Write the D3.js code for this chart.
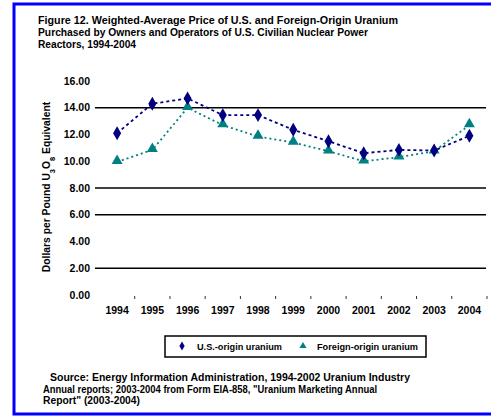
<!DOCTYPE html>
<html>
<head>
<meta charset="utf-8">
<script src="https://cdn.jsdelivr.net/npm/d3@7"></script>
<style>
  body { margin: 0; background: #fff; }
  svg { display: block; font-family: "Liberation Sans", Arial, sans-serif; }
</style>
</head>
<body>
<svg id="chart" width="491" height="417"></svg>
<script>
// --- DATOS ---
const years = ["1994", "1995", "1996", "1997", "1998", "1999", "2000", "2001", "2002", "2003", "2004"];
const usOrigin = [12.1, 14.3, 14.7, 13.45, 13.45, 12.35, 11.5, 10.6, 10.85, 10.8, 11.9];
const foreignOrigin = [9.95, 10.85, 14.0, 12.7, 11.85, 11.4, 10.75, 10.0, 10.3, 10.75, 12.7];
const yTicks = [0, 2, 4, 6, 8, 10, 12, 14, 16];
const gridValues = [2, 6, 8, 14];
const titleLines = [
  "Figure 12.  Weighted-Average Price of U.S. and Foreign-Origin Uranium",
  "Purchased by Owners and Operators of U.S. Civilian Nuclear Power",
  "Reactors, 1994-2004"
];
const sourceLines = [
  "Source:  Energy Information Administration, 1994-2002 Uranium Industry",
  "Annual reports; 2003-2004 from Form EIA-858, \"Uranium Marketing Annual",
  "Report\" (2003-2004)"
];
const seriesNames = ["U.S.-origin uranium", "Foreign-origin uranium"];

const NAVY = "#000080", TEAL = "#008080";

const svg = d3.select("#chart");

// marco azul
svg.append("path")
  .attr("d", "M493,4 H14 V414 H493")
  .attr("fill", "none").attr("stroke", "#0000ff").attr("stroke-width", 3);

// titulo (anchos medidos en la imagen)
const titleW = [360, 330, 98];
titleLines.forEach((t, i) => {
  svg.append("text")
    .attr("x", 38).attr("y", 24 + i * 12)
    .attr("textLength", titleW[i]).attr("lengthAdjust", "spacingAndGlyphs")
    .style("font-size", "10px").style("font-weight", "bold")
    .text(t);
});

// --- ESCALAS ---
const x = d3.scaleBand().domain(years).range([99.5, 487]);
const y = d3.scaleLinear().domain([0, 16]).range([295, 81]);
const cx = d => x(d) + x.bandwidth() / 2;

// lineas de rejilla
svg.append("g").selectAll("line")
  .data(gridValues).join("line")
  .attr("x1", 95).attr("x2", 486)
  .attr("y1", d => y(d)).attr("y2", d => y(d))
  .attr("stroke", "#000").attr("stroke-width", 1.5);

// etiquetas eje y
svg.append("g").selectAll("text")
  .data(yTicks).join("text")
  .attr("x", 90).attr("y", d => y(d) + 3.5)
  .attr("text-anchor", "end")
  .style("font-size", "10.5px").style("font-weight", "bold")
  .text(d => d3.format(".2f")(d));

// marcas eje x
const bounds = years.map(d => x(d)).concat([x.range()[1]]).slice(1);
svg.append("g").selectAll("line")
  .data(bounds).join("line")
  .attr("x1", d => d).attr("x2", d => d)
  .attr("y1", 296).attr("y2", 299)
  .attr("stroke", "#333").attr("stroke-width", 1);

// etiquetas eje x
svg.append("g").selectAll("text")
  .data(years).join("text")
  .attr("x", d => cx(d)).attr("y", 314)
  .attr("text-anchor", "middle")
  .style("font-size", "10.5px").style("font-weight", "bold")
  .text(d => d);

// titulo eje y
const yt = svg.append("text")
  .attr("transform", "translate(50,187) rotate(-90)")
  .attr("text-anchor", "middle")
  .style("font-size", "10.3px").style("font-weight", "bold");
yt.append("tspan").text("Dollars per Pound U");
yt.append("tspan").attr("baseline-shift", "sub").style("font-size", "7.5px").text("3");
yt.append("tspan").text("O");
yt.append("tspan").attr("baseline-shift", "sub").style("font-size", "7.5px").text("8");
yt.append("tspan").text(" Equivalent");

// --- SERIES ---
const line = d3.line().x((d, i) => cx(years[i])).y(d => y(d));

svg.append("path").datum(foreignOrigin)
  .attr("d", line).attr("fill", "none")
  .attr("stroke", TEAL).attr("stroke-width", 1.8)
  .attr("stroke-dasharray", "2,3");

svg.append("path").datum(usOrigin)
  .attr("d", line).attr("fill", "none")
  .attr("stroke", NAVY).attr("stroke-width", 1.8)
  .attr("stroke-dasharray", "3,3");

const triangle = d3.symbol().type(d3.symbolTriangle).size(52);
const diamond = d3.symbol().type(d3.symbolDiamond).size(56);

svg.append("g").selectAll("path")
  .data(foreignOrigin).join("path")
  .attr("d", triangle)
  .attr("transform", (d, i) => `translate(${cx(years[i])},${y(d) - 1})`)
  .attr("fill", TEAL);

svg.append("g").selectAll("path")
  .data(usOrigin).join("path")
  .attr("d", diamond)
  .attr("transform", (d, i) => `translate(${cx(years[i])},${y(d)})`)
  .attr("fill", NAVY);

// --- LEYENDA ---
svg.append("rect")
  .attr("x", 165).attr("y", 336).attr("width", 261).attr("height", 21)
  .attr("fill", "none").attr("stroke", "#000").attr("stroke-width", 1.5);

const legendItems = [
  { name: seriesNames[0], sym: d3.symbol().type(d3.symbolDiamond).size(24), color: NAVY, x: 182, tx: 197, w: 85 },
  { name: seriesNames[1], sym: d3.symbol().type(d3.symbolTriangle).size(22), color: TEAL, x: 303, tx: 317, w: 101 }
];
legendItems.forEach(it => {
  svg.append("path").attr("d", it.sym)
    .attr("transform", `translate(${it.x},346)`).attr("fill", it.color);
  svg.append("text")
    .attr("x", it.tx).attr("y", 349.5)
    .attr("textLength", it.w).attr("lengthAdjust", "spacingAndGlyphs")
    .style("font-size", "9px").style("font-weight", "bold")
    .text(it.name);
});

// fuente (anchos medidos en la imagen)
const sourceX = [50, 43, 43];
const sourceW = [360, 334, 97];
sourceLines.forEach((t, i) => {
  svg.append("text")
    .attr("x", sourceX[i]).attr("y", 381 + i * 11.5)
    .attr("textLength", sourceW[i]).attr("lengthAdjust", "spacingAndGlyphs")
    .style("font-size", "10px").style("font-weight", "bold")
    .text(t);
});
</script>
</body>
</html>
